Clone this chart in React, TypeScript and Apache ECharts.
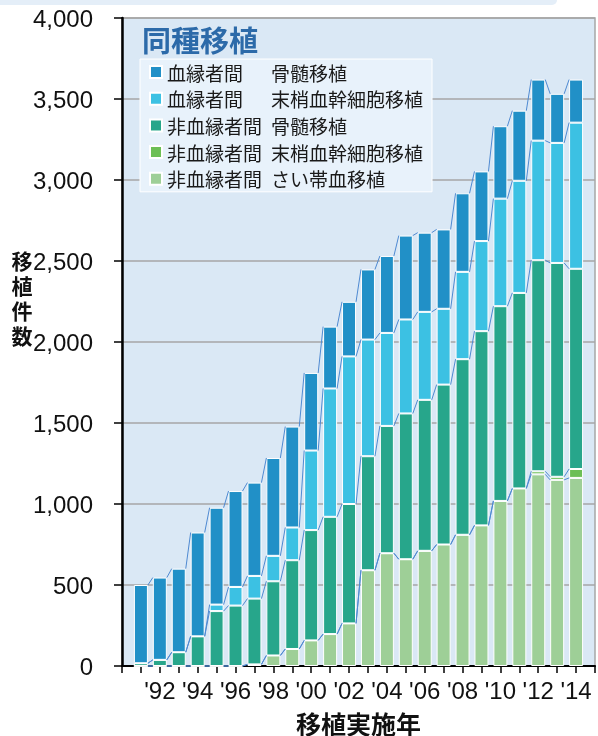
import React, { useEffect, useRef } from "react";
import * as echarts from "echarts";

const years = ["1991","1992","1993","1994","1995","1996","1997","1998","1999","2000","2001","2002","2003","2004","2005","2006","2007","2008","2009","2010","2011","2012","2013","2014"];

// bottom -> top stacking order
const cordBlood = [0,0,0,0,0,0,10,65,105,158,197,263,591,696,659,711,750,810,868,1019,1096,1183,1149,1161];
const unrelPB = [0,0,0,0,0,0,0,0,0,0,0,0,0,0,0,0,0,0,0,0,0,19,19,55];
const unrelBM = [17,38,85,183,339,373,406,458,548,681,724,737,704,786,900,932,987,1084,1199,1202,1207,1303,1320,1236];
const relPB = [0,0,0,0,40,115,140,157,202,491,792,911,720,574,580,543,468,539,556,664,692,738,741,902];
const relBM = [483,508,516,641,598,592,576,604,623,479,382,337,433,475,518,489,490,485,430,447,433,377,303,266];

const seriesNames = [
  "非血縁者間 さい帯血移植",
  "非血縁者間 末梢血幹細胞移植",
  "非血縁者間 骨髄移植",
  "血縁者間 末梢血幹細胞移植",
  "血縁者間 骨髄移植",
];
const seriesColors = ["#9ecf97", "#6cbf55", "#27a68b", "#3cc1e3", "#2190c7"];
const legendOrder = [4, 3, 2, 1, 0];

const yTicks = { min: 0, max: 4000, interval: 500 };

export default function App() {
  const ref = useRef<HTMLDivElement>(null);
  useEffect(() => {
    if (!ref.current) return;
    const chart = echarts.init(ref.current, null, { renderer: "svg" });
    const values = [cordBlood, unrelPB, unrelBM, relPB, relBM];
    const cats = ["", ...years, ""];
    const cum: number[][] = [];
    values.forEach((arr, k) => {
      cum.push(arr.map((v, i) => v + (k > 0 ? cum[k - 1][i] : 0)));
    });
    const BAR_W = 14;
    const half = BAR_W / 2;
    const cjk = "'Noto Sans CJK JP', sans-serif";
    const latin = "'Liberation Sans', Arial, sans-serif";

    const barSeries = values.map((arr, k) => ({
      type: "bar",
      name: seriesNames[k],
      stack: "total",
      barWidth: BAR_W,
      data: [null, ...arr, null],
      itemStyle: { color: seriesColors[k], borderColor: "#ffffff", borderWidth: 1 },
      emphasis: { disabled: true },
    }));

    const connector = {
      type: "custom",
      name: "connector",
      silent: true,
      z: 3,
      data: years.slice(0, -1).map((_, j) => [j + 1, 0]),
      renderItem: (params: any, api: any) => {
        const ci = api.value(0);
        const j = ci - 1;
        const children: any[] = [];
        for (let k = 0; k < cum.length; k++) {
          const p1 = api.coord([ci, cum[k][j]]);
          const p2 = api.coord([ci + 1, cum[k][j + 1]]);
          children.push({
            type: "line",
            shape: { x1: p1[0] + half, y1: p1[1], x2: p2[0] - half, y2: p2[1] },
            style: { stroke: "#4f8ad2", lineWidth: 1, fill: null },
          });
        }
        return { type: "group", children };
      },
    };

    chart.setOption({
      animation: false,
      title: {
        text: "同種移植",
        left: 142,
        top: 24,
        padding: 0,
        textStyle: { fontSize: 29, fontWeight: "bold", color: "#2c6aa9", fontFamily: cjk },
      },
      legend: {
        orient: "vertical",
        left: 140,
        top: 59,
        padding: [3, 9, 3, 9],
        itemWidth: 12,
        itemHeight: 12,
        itemGap: 6.7,
        icon: "rect",
        backgroundColor: "#e8f2fb",
        borderColor: "#ffffff",
        borderWidth: 1,
        data: legendOrder.map((k) => seriesNames[k]),
        formatter: (name: string) => {
          const [a, b] = name.split(" ");
          return `{a|${a}}{b|${b}}`;
        },
        textStyle: {
          fontSize: 19,
          lineHeight: 20,
          color: "#1a1a1a",
          fontFamily: cjk,
          rich: {
            a: { width: 104, fontSize: 19, color: "#1a1a1a", fontFamily: cjk },
            b: { fontSize: 19, color: "#1a1a1a", fontFamily: cjk },
          },
        },
      },
      grid: {
        left: 122,
        right: 3,
        top: 18,
        bottom: 70,
        outerBoundsMode: "none",
        containLabel: false,
        show: true,
        backgroundColor: "#dae8f5",
        borderColor: "#a6a6a6",
        borderWidth: 1.5,
      },
      xAxis: {
        type: "category",
        data: cats,
        boundaryGap: false,
        name: "移植実施年",
        nameLocation: "middle",
        nameGap: 44,
        nameTextStyle: { fontSize: 25, lineHeight: 25, fontWeight: "bold", color: "#111", fontFamily: cjk },
        axisLine: { lineStyle: { color: "#000", width: 2 } },
        axisTick: { interval: 0, length: 7, lineStyle: { color: "#000", width: 1.5 } },
        axisLabel: {
          interval: (_i: number, v: string) => v !== "" && +v % 2 === 0,
          formatter: (v: string) => (v ? "'" + v.slice(2) : ""),
          fontSize: 24,
          color: "#111",
          margin: 12,
          fontFamily: latin,
        },
        splitLine: { show: false },
      },
      yAxis: {
        type: "value",
        min: yTicks.min,
        max: yTicks.max,
        interval: yTicks.interval,
        axisLine: { show: true, lineStyle: { color: "#000", width: 2.5 } },
        axisTick: { show: true, length: 8, lineStyle: { color: "#000", width: 1.5 } },
        axisLabel: {
          fontSize: 24,
          color: "#111",
          margin: 29,
          fontFamily: latin,
          formatter: (v: number) => v.toLocaleString("en-US"),
        },
        splitLine: { lineStyle: { color: "#a6a6a6", width: 1.5 } },
      },
      graphic: [
        {
          type: "rect",
          shape: { x: 0, y: 0, width: 557, height: 5, r: [0, 0, 5, 0] },
          style: { fill: "#e4eef8" },
          silent: true,
        },
        {
          type: "text",
          x: 22,
          y: 247,
          style: {
            text: "移\n植\n件\n数",
            fontSize: 21,
            lineHeight: 25,
            fontWeight: "bold",
            fill: "#111",
            align: "center",
            fontFamily: cjk,
          },
          z: 100,
        },
      ],
      series: [...barSeries, connector],
    });
    return () => chart.dispose();
  }, []);
  return (
    <div
      ref={ref}
      style={{ position: "fixed", left: 0, top: 0, width: 598, height: 736 }}
    />
  );
}
